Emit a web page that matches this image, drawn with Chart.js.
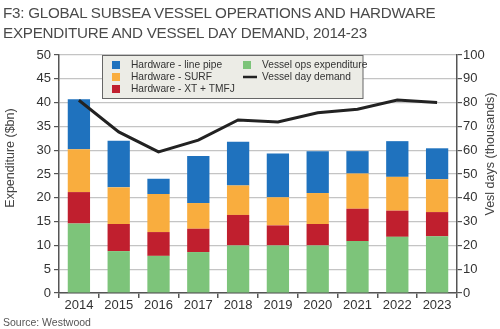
<!DOCTYPE html>
<html>
<head>
<meta charset="utf-8">
<script src="https://cdn.jsdelivr.net/npm/chart.js@4"></script>
<style>
  html, body { margin: 0; padding: 0; background: #fff; }
  #wrap { position: relative; width: 500px; height: 329px; overflow: hidden; font-family: "Liberation Sans", Arial, sans-serif; }
  #title { position: absolute; left: 3px; top: 3px; font-size: 15.2px; line-height: 20px; color: #4a4a4a; letter-spacing: -0.25px; }
  #source { position: absolute; left: 3px; top: 316px; font-size: 10.5px; color: #555; }
  canvas { position: absolute; left: 0; top: 0; }
</style>
</head>
<body>
<div id="wrap">
  <canvas id="chart" width="500" height="329"></canvas>
  <div id="title">F3: GLOBAL SUBSEA VESSEL OPERATIONS AND HARDWARE<br>EXPENDITURE AND VESSEL DAY DEMAND, 2014-23</div>
  <div id="source">Source: Westwood</div>
</div>
<script>
const years = ["2014", "2015", "2016", "2017", "2018", "2019", "2020", "2021", "2022", "2023"];
// $bn, stacked bottom to top
const vesselOps = [14.6, 8.8, 7.8, 8.6, 10.0, 10.0, 10.0, 10.9, 11.8, 11.9];
const hwXtTmfj = [6.6, 5.7, 5.0, 4.9, 6.4, 4.2, 4.5, 6.8, 5.5, 5.1];
const hwSurf = [9.0, 7.7, 8.0, 5.4, 6.2, 5.9, 6.5, 7.4, 7.1, 6.9];
const hwLinePipe = [10.5, 9.8, 3.2, 9.9, 9.2, 9.2, 8.8, 4.7, 7.5, 6.5];
// vessel days, thousands
const vesselDays = [81.0, 67.7, 59.3, 64.2, 72.7, 71.9, 75.7, 77.2, 81.1, 80.0];

const FONT = "'Liberation Sans', Arial, sans-serif";
const AXIS_COLOR = "#555";

const legendBox = {
  id: "legendBox",
  afterDraw(chart) {
    const ctx = chart.ctx;
    const ds = chart.data.datasets;
    ctx.save();
    ctx.fillStyle = "#ecece6";
    ctx.fillRect(102, 55, 261, 43.5);
    ctx.strokeStyle = "#666";
    ctx.lineWidth = 1;
    ctx.strokeRect(102.5, 55.5, 260.5, 43);

    const items = [
      { ds: ds[4], x: 112, y: 65 },
      { ds: ds[3], x: 112, y: 77 },
      { ds: ds[2], x: 112, y: 89 },
      { ds: ds[1], x: 243, y: 65 },
      { ds: ds[0], x: 243, y: 77 }
    ];
    ctx.font = "10.2px " + FONT;
    ctx.textBaseline = "middle";
    items.forEach((item) => {
      if (item.ds.type === "line") {
        ctx.strokeStyle = item.ds.borderColor;
        ctx.lineWidth = 2.5;
        ctx.beginPath();
        ctx.moveTo(item.x, item.y);
        ctx.lineTo(item.x + 14, item.y);
        ctx.stroke();
      } else {
        ctx.fillStyle = item.ds.backgroundColor;
        ctx.fillRect(item.x, item.y - 4, 8, 8);
      }
      ctx.fillStyle = "#333";
      ctx.fillText(item.ds.label, item.x + 19, item.y);
    });
    ctx.restore();
  }
};

const axisTitles = {
  id: "axisTitles",
  afterDraw(chart) {
    const ctx = chart.ctx;
    ctx.save();
    ctx.font = "12.5px " + FONT;
    ctx.fillStyle = "#444";
    ctx.textAlign = "center";
    ctx.textBaseline = "middle";
    ctx.translate(11, 158);
    ctx.rotate(-Math.PI / 2);
    ctx.fillText("Expenditure ($bn)", 0, 0);
    ctx.restore();
    ctx.save();
    ctx.font = "12.5px " + FONT;
    ctx.fillStyle = "#444";
    ctx.textAlign = "center";
    ctx.textBaseline = "middle";
    ctx.translate(491, 154);
    ctx.rotate(-Math.PI / 2);
    ctx.fillText("Vesl days (thousands)", 0, 0);
    ctx.restore();
  }
};

new Chart(document.getElementById("chart"), {
  data: {
    labels: years,
    datasets: [
      {
        type: "line",
        label: "Vessel day demand",
        data: vesselDays,
        yAxisID: "y1",
        borderColor: "#222",
        borderWidth: 3,
        pointRadius: 0,
        tension: 0,
        order: 0
      },
      { type: "bar", label: "Vessel ops expenditure", data: vesselOps, backgroundColor: "#7dc47a", stack: "s", order: 1 },
      { type: "bar", label: "Hardware - XT + TMFJ", data: hwXtTmfj, backgroundColor: "#c01f2e", stack: "s", order: 1 },
      { type: "bar", label: "Hardware - SURF", data: hwSurf, backgroundColor: "#f9ad3e", stack: "s", order: 1 },
      { type: "bar", label: "Hardware - line pipe", data: hwLinePipe, backgroundColor: "#1f72be", stack: "s", order: 1 }
    ]
  },
  options: {
    responsive: false,
    animation: false,
    devicePixelRatio: 1,
    datasets: { bar: { barPercentage: 0.56, categoryPercentage: 1.0 } },
    layout: { padding: { top: 55, left: 0, right: 0, bottom: 0 } },
    plugins: {
      legend: { display: false },
      tooltip: { enabled: false }
    },
    scales: {
      x: {
        stacked: true,
        offset: true,
        grid: { display: true, drawOnChartArea: false, offset: true, tickLength: 5, tickColor: AXIS_COLOR, lineWidth: 1.5 },
        border: { color: AXIS_COLOR, width: 1.5 },
        ticks: { color: "#333", font: { family: FONT, size: 13 }, padding: 0, maxRotation: 0 },
        afterFit(scale) { scale.height = 36; }
      },
      y: {
        stacked: true,
        position: "left",
        min: 0,
        max: 50,
        ticks: { stepSize: 5, color: "#333", font: { family: FONT, size: 13 }, padding: 3 },
        grid: { color: "#c4c4c4", lineWidth: 1.2, tickLength: 5, tickColor: AXIS_COLOR },
        border: { color: AXIS_COLOR, width: 1.5 },
        afterFit(scale) { scale.width = 59; }
      },
      y1: {
        position: "right",
        min: 0,
        max: 100,
        ticks: { stepSize: 10, color: "#333", font: { family: FONT, size: 13 }, padding: 1 },
        grid: { drawOnChartArea: false, tickLength: 5, tickColor: AXIS_COLOR, lineWidth: 1.2 },
        border: { color: AXIS_COLOR, width: 1.5 },
        afterFit(scale) { scale.width = 43; }
      }
    }
  },
  plugins: [legendBox, axisTitles]
});
</script>
</body>
</html>
